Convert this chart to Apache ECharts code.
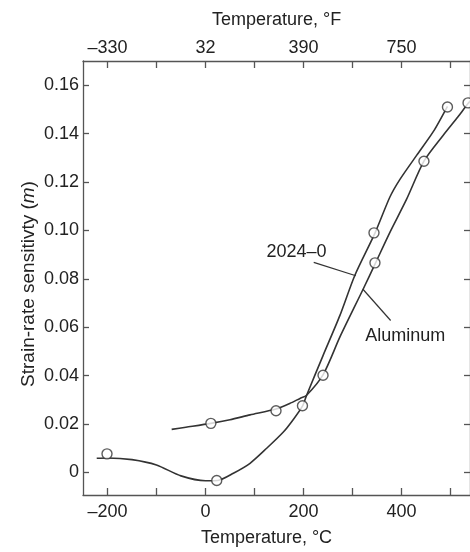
<!DOCTYPE html>
<html>
<head>
<meta charset="utf-8">
<script src="https://cdn.jsdelivr.net/npm/echarts@6/dist/echarts.min.js"></script>
<style>
html,body{margin:0;padding:0;background:#fff;}
#c{width:470px;height:552px;}
</style>
</head>
<body>
<div id="c"></div>
<script>
// ---- data ----
var xTicksC = [-200,-100,0,100,200,300,400,500];
var xLabelsC = [-200,0,200,400];
var topLabelsF = ['–330','32','390','750'];
var yTicks = [0,0.02,0.04,0.06,0.08,0.10,0.12,0.14,0.16];

// curve through the lower-left start (ends on the left steep line)
var curveA_T = [-222,-200,-150,-100,-50,0,25,57,91,125,159,179,198,206.5,240,274.5,305,346,376.5,397,431,465,494];
var curveA_m = [0.0059,0.0060,0.0053,0.0031,-0.0014,-0.0034,-0.0033,-0.0003,0.0038,0.0100,0.0167,0.0218,0.0274,0.0319,0.0483,0.0649,0.0815,0.0989,0.1138,0.1211,0.1310,0.1408,0.1513];
var pointsA_T = [-201,23,198,344,494];
var pointsA_m = [0.0077,-0.0033,0.0276,0.0990,0.1510];

// curve starting at about -70 C (ends on the right line)
var curveB_T = [-69,-40,11,50,91,144,172,193,206.5,240.5,274.5,322,347,376.5,410.6,446,485,512.6,536,545];
var curveB_m = [0.0178,0.0187,0.0203,0.0218,0.0238,0.0262,0.0285,0.0306,0.0319,0.0405,0.0560,0.0758,0.0865,0.0992,0.1129,0.1286,0.1392,0.1462,0.1524,0.1545];
var pointsB_T = [11,144,240,346,446,536];
var pointsB_m = [0.0203,0.0255,0.0402,0.0866,0.1286,0.1527];

// annotations (data coordinates)
var label2024 = {text:'2024–0', T:186, m:0.0911, from:[221,0.0868], to:[307,0.0813]};
var labelAl = {text:'Aluminum', T:408, m:0.0565, from:[378,0.0628], to:[321,0.0758]};

function zip(a,b){return a.map(function(v,i){return [v,b[i]];});}

var txt = '#222', axc = '#555';
var chart = echarts.init(document.getElementById('c'), null, {renderer:'canvas'});
var fontFam = '"Liberation Sans", Arial, Helvetica, sans-serif';

chart.setOption({
  animation:false,
  backgroundColor:'#fff',
  textStyle:{fontFamily:fontFam},
  grid:{left:83, top:61, width:387, height:436, containLabel:false},
  xAxis:[{
    type:'value', position:'bottom', min:-250, max:540,
    axisLine:{show:true, onZero:false, lineStyle:{color:axc, width:1.3}},
    axisTick:{show:true, inside:true, length:7, customValues:xTicksC, lineStyle:{color:axc, width:1.3}},
    axisLabel:{show:true, customValues:xLabelsC, fontSize:18, color:txt, margin:8, fontFamily:fontFam,
      formatter:function(v){return v<0?'–'+Math.abs(v):String(v);}},
    splitLine:{show:false},
    name:'Temperature, °C', nameLocation:'middle', nameGap:34,
    nameTextStyle:{fontSize:18, color:txt, fontFamily:fontFam, padding:[0,20,0,0]}
  },{
    type:'value', position:'top', min:-250, max:540,
    axisLine:{show:true, onZero:false, lineStyle:{color:axc, width:1.3}},
    axisTick:{show:true, inside:true, length:7, customValues:xTicksC, lineStyle:{color:axc, width:1.3}},
    axisLabel:{show:true, customValues:xLabelsC, fontSize:18, color:txt, margin:4, fontFamily:fontFam,
      formatter:function(v){return topLabelsF[xLabelsC.indexOf(v)];}},
    splitLine:{show:false},
    name:'Temperature, °F', nameLocation:'middle', nameGap:32,
    nameTextStyle:{fontSize:18, color:txt, fontFamily:fontFam}
  }],
  yAxis:[{
    type:'value', position:'left', min:-0.0093, max:0.170,
    axisLine:{show:true, onZero:false, lineStyle:{color:axc, width:1.3}},
    axisTick:{show:true, inside:true, length:6, customValues:yTicks, lineStyle:{color:axc, width:1.3}},
    axisLabel:{show:true, customValues:yTicks, fontSize:18, color:txt, margin:4, fontFamily:fontFam,
      formatter:function(v){return Math.abs(v)<1e-9?'0':v.toFixed(2);}},
    splitLine:{show:false}
  },{
    type:'value', position:'right', min:-0.0093, max:0.170,
    axisLine:{show:true, onZero:false, lineStyle:{color:axc, width:1.3}},
    axisTick:{show:true, inside:true, length:6, customValues:yTicks, lineStyle:{color:axc, width:1.3}},
    axisLabel:{show:false},
    splitLine:{show:false}
  }],
  series:[{
    name:'2024–0', type:'line', smooth:0.25, showSymbol:false, symbol:'none',
    data:zip(curveA_T,curveA_m), lineStyle:{color:'#333', width:1.6}, z:2,
    markLine:{silent:true, symbol:'none', label:{show:false}, lineStyle:{color:'#333', width:1.2, type:'solid'},
      data:[[{coord:label2024.from},{coord:label2024.to}]]}
  },{
    name:'Aluminum', type:'line', smooth:0.25, showSymbol:false, symbol:'none',
    data:zip(curveB_T,curveB_m), lineStyle:{color:'#333', width:1.6}, z:2,
    markLine:{silent:true, symbol:'none', label:{show:false}, lineStyle:{color:'#333', width:1.2, type:'solid'},
      data:[[{coord:labelAl.from},{coord:labelAl.to}]]}
  },{
    name:'A points', type:'scatter', symbol:'circle', symbolSize:10,
    data:zip(pointsA_T,pointsA_m), itemStyle:{color:'#fff', borderColor:'#333', borderWidth:1.4}, z:5
  },{
    name:'B points', type:'scatter', symbol:'circle', symbolSize:10,
    data:zip(pointsB_T,pointsB_m), itemStyle:{color:'#fff', borderColor:'#333', borderWidth:1.4}, z:5
  }]
});

var p1 = chart.convertToPixel({xAxisIndex:0, yAxisIndex:0}, [label2024.T, label2024.m]);
var p2 = chart.convertToPixel({xAxisIndex:0, yAxisIndex:0}, [labelAl.T, labelAl.m]);
chart.setOption({
  graphic:[{
    type:'text', x:p1[0], y:p1[1],
    style:{text:label2024.text, fill:txt, font:'18px '+fontFam, textAlign:'center', textVerticalAlign:'middle'}
  },{
    type:'text', x:p2[0], y:p2[1],
    style:{text:labelAl.text, fill:txt, font:'18px '+fontFam, textAlign:'center', textVerticalAlign:'middle'}
  },{
    type:'text', x:29, y:284, rotation:Math.PI/2,
    style:{text:'{a|Strain-rate sensitivty (}{b|m}{a|)}', align:'center', verticalAlign:'middle',
      textAlign:'center', textVerticalAlign:'middle',
      rich:{a:{fontSize:19, fill:txt, color:txt, fontFamily:fontFam},
            b:{fontSize:19, fill:txt, color:txt, fontStyle:'italic', fontFamily:fontFam}}}
  }]
});
</script>
</body>
</html>
